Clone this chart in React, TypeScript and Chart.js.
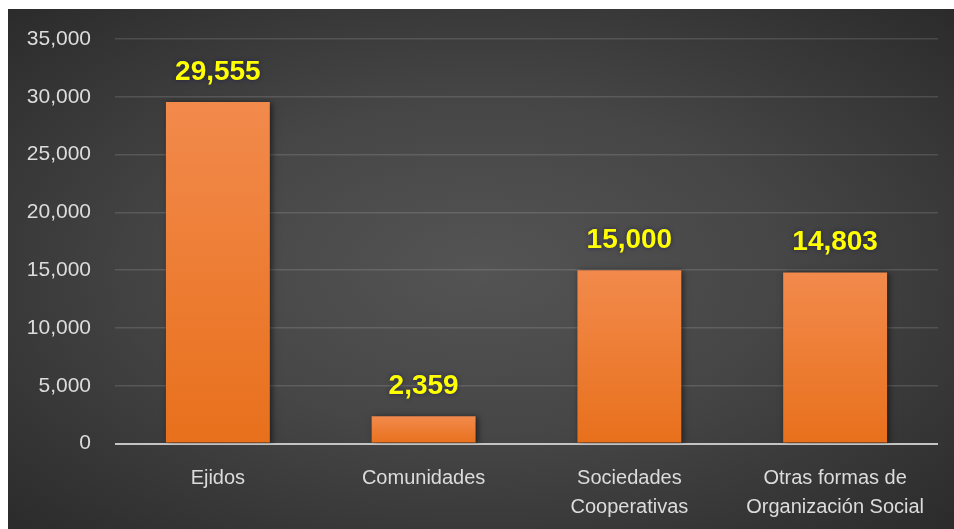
import React, { useEffect, useRef } from "react";
import { Chart, registerables } from "chart.js";

Chart.register(...registerables);

const categories: (string | string[])[] = [
  "Ejidos",
  "Comunidades",
  ["Sociedades", "Cooperativas"],
  ["Otras formas de", "Organización Social"],
];
const values: number[] = [29555, 2359, 15000, 14803];
const yMin = 0;
const yMax = 35000;
const yStep = 5000;

const fmt = (v: number) => v.toLocaleString("en-US");

const labelPlugin = {
  id: "barLabelsAndShadow",
  beforeDatasetsDraw(chart: any) {
    const ctx = chart.ctx;
    ctx.save();
    ctx.shadowColor = "rgba(0,0,0,0.55)";
    ctx.shadowBlur = 6;
    ctx.shadowOffsetX = 2;
    ctx.shadowOffsetY = 1;
  },
  afterDatasetsDraw(chart: any) {
    const ctx = chart.ctx;
    ctx.restore();
    const meta = chart.getDatasetMeta(0);
    ctx.save();
    ctx.font = "bold 28px 'Liberation Sans', Arial, sans-serif";
    ctx.fillStyle = "#ffff00";
    ctx.textAlign = "center";
    ctx.textBaseline = "alphabetic";
    ctx.shadowColor = "rgba(30,30,80,0.85)";
    ctx.shadowBlur = 4;
    meta.data.forEach((bar: any, i: number) => {
      ctx.fillText(fmt(values[i]), bar.x, bar.y - 22);
    });
    ctx.restore();
  },
};

export default function App() {
  const ref = useRef<HTMLCanvasElement | null>(null);

  useEffect(() => {
    if (!ref.current) return;
    const chart = new Chart(ref.current, {
      type: "bar",
      data: {
        labels: categories as any,
        datasets: [
          {
            data: values,
            backgroundColor: (context: any) => {
              const c = context.chart;
              const area = c.chartArea;
              if (!area || context.dataIndex === undefined) return "#ee7d36";
              const v = values[context.dataIndex];
              const yTop = c.scales.y.getPixelForValue(v);
              const yBot = c.scales.y.getPixelForValue(0);
              if (!isFinite(yTop) || !isFinite(yBot) || yTop === yBot) return "#ee7d36";
              const g = c.ctx.createLinearGradient(0, yTop, 0, yBot);
              g.addColorStop(0, "#f28a4c");
              g.addColorStop(1, "#e8701c");
              return g;
            },
            borderWidth: 0,
            categoryPercentage: 1,
            barPercentage: 0.505,
          },
        ],
      },
      options: {
        animation: false,
        responsive: false,
        maintainAspectRatio: false,
        layout: { padding: { top: 30, right: 16, bottom: 0, left: 0 } },
        plugins: {
          legend: { display: false },
          tooltip: { enabled: false },
          title: { display: false },
        },
        scales: {
          x: {
            grid: { display: false, drawTicks: false },
            border: { display: false },
            ticks: {
              color: "#dcdcdc",
              padding: 20,
              maxRotation: 0,
              autoSkip: false,
              font: { family: "'Liberation Sans', Arial, sans-serif", size: 20, lineHeight: 1.45 },
            },
            afterFit: (scale: any) => {
              scale.height = 85.5;
              scale.paddingLeft = 0;
              scale.paddingRight = 0;
            },
          },
          y: {
            min: yMin,
            max: yMax,
            grid: {
              drawTicks: false,
              color: (ctx: any) => (ctx.tick && ctx.tick.value === 0 ? "#c4c4c4" : "rgba(255,255,255,0.13)"),
              lineWidth: (ctx: any) => (ctx.tick && ctx.tick.value === 0 ? 2 : 1.5),
            },
            border: { display: false },
            ticks: {
              stepSize: yStep,
              color: "#dcdcdc",
              padding: 24,
              font: { family: "'Liberation Sans', Arial, sans-serif", size: 21 },
              callback: (v: any) => fmt(Number(v)),
            },
            afterFit: (scale: any) => {
              scale.width = 107;
              scale.paddingTop = 0;
              scale.paddingBottom = 0;
            },
          },
        },
      },
      plugins: [labelPlugin],
    });
    return () => chart.destroy();
  }, []);

  return (
    <div
      style={{
        position: "absolute",
        left: 8,
        top: 9,
        width: 946,
        height: 520,
        background: "radial-gradient(ellipse at 50% 50%, #545454 0%, #464646 45%, #2b2b2b 100%)",
      }}
    >
      <canvas ref={ref} width={946} height={520} style={{ display: "block" }} />
    </div>
  );
}
